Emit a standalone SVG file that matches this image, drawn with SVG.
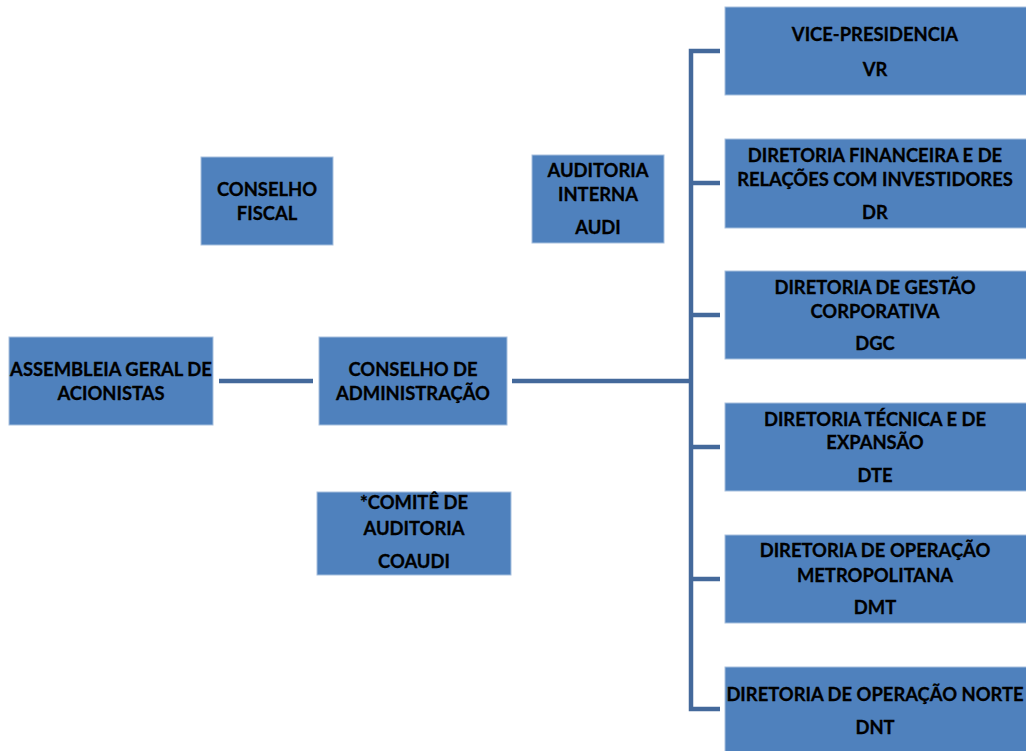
<svg xmlns="http://www.w3.org/2000/svg" width="1026" height="751" viewBox="0 0 1026 751">
<style>
.box{fill:#4F81BD;stroke:#A7C0DE;stroke-width:1}
.t{font-family:Lato,"Open Sans","Liberation Sans",sans-serif;font-weight:bold;font-size:18.4px;fill:#000;text-anchor:middle;dominant-baseline:central;stroke:#000;stroke-width:0.3}
.c{fill:none;stroke:#44699B;stroke-width:4.5}
</style>
<rect width="1026" height="751" fill="#fff"/>
<g id="connectors">
<line class="c" x1="219" y1="381" x2="313" y2="381"/>
<line class="c" x1="512" y1="381" x2="691" y2="381"/>
<polyline class="c" points="720,51 691,51 691,709 720,709"/>
<line class="c" x1="691" y1="183" x2="720" y2="183"/>
<line class="c" x1="691" y1="315" x2="720" y2="315"/>
<line class="c" x1="691" y1="447" x2="720" y2="447"/>
<line class="c" x1="691" y1="579" x2="720" y2="579"/>
</g>
<g id="vr"><rect class="box" x="725" y="7" width="302" height="88"/>
<text class="t" x="875" y="34">VICE-PRESIDENCIA</text><text class="t" x="875" y="69">VR</text></g>
<g id="dr"><rect class="box" x="725" y="139" width="302" height="89"/>
<text class="t" x="875" y="155">DIRETORIA FINANCEIRA E DE</text><text class="t" x="875" y="179">RELAÇÕES COM INVESTIDORES</text><text class="t" x="875" y="212">DR</text></g>
<g id="dgc"><rect class="box" x="725" y="271" width="302" height="88"/>
<text class="t" x="875" y="287">DIRETORIA DE GESTÃO</text><text class="t" x="875" y="311">CORPORATIVA</text><text class="t" x="875" y="343">DGC</text></g>
<g id="dte"><rect class="box" x="725" y="403" width="302" height="88"/>
<text class="t" x="875" y="419">DIRETORIA TÉCNICA E DE</text><text class="t" x="875" y="442">EXPANSÃO</text><text class="t" x="875" y="475">DTE</text></g>
<g id="dmt"><rect class="box" x="725" y="535" width="302" height="88"/>
<text class="t" x="875" y="550">DIRETORIA DE OPERAÇÃO</text><text class="t" x="875" y="575">METROPOLITANA</text><text class="t" x="875" y="607">DMT</text></g>
<g id="dnt"><rect class="box" x="725" y="667" width="302" height="90"/>
<text class="t" x="875" y="694">DIRETORIA DE OPERAÇÃO NORTE</text><text class="t" x="875" y="727">DNT</text></g>
<g id="conselho-fiscal"><rect class="box" x="201" y="157" width="132" height="88"/>
<text class="t" x="267" y="189">CONSELHO</text><text class="t" x="267" y="213">FISCAL</text></g>
<g id="auditoria-interna"><rect class="box" x="532" y="155" width="132" height="88"/>
<text class="t" x="598" y="170">AUDITORIA</text><text class="t" x="598" y="194">INTERNA</text><text class="t" x="598" y="227">AUDI</text></g>
<g id="assembleia"><rect class="box" x="9" y="337" width="204" height="88"/>
<text class="t" x="111" y="369">ASSEMBLEIA GERAL DE</text><text class="t" x="111" y="393">ACIONISTAS</text></g>
<g id="conselho-admin"><rect class="box" x="319" y="337" width="188" height="88"/>
<text class="t" x="413" y="369">CONSELHO DE</text><text class="t" x="413" y="393">ADMINISTRAÇÃO</text></g>
<g id="coaudi"><rect class="box" x="317" y="492" width="194" height="83"/>
<text class="t" x="414" y="502">*COMITÊ DE</text><text class="t" x="414" y="528">AUDITORIA</text><text class="t" x="414" y="561">COAUDI</text></g>
</svg>
